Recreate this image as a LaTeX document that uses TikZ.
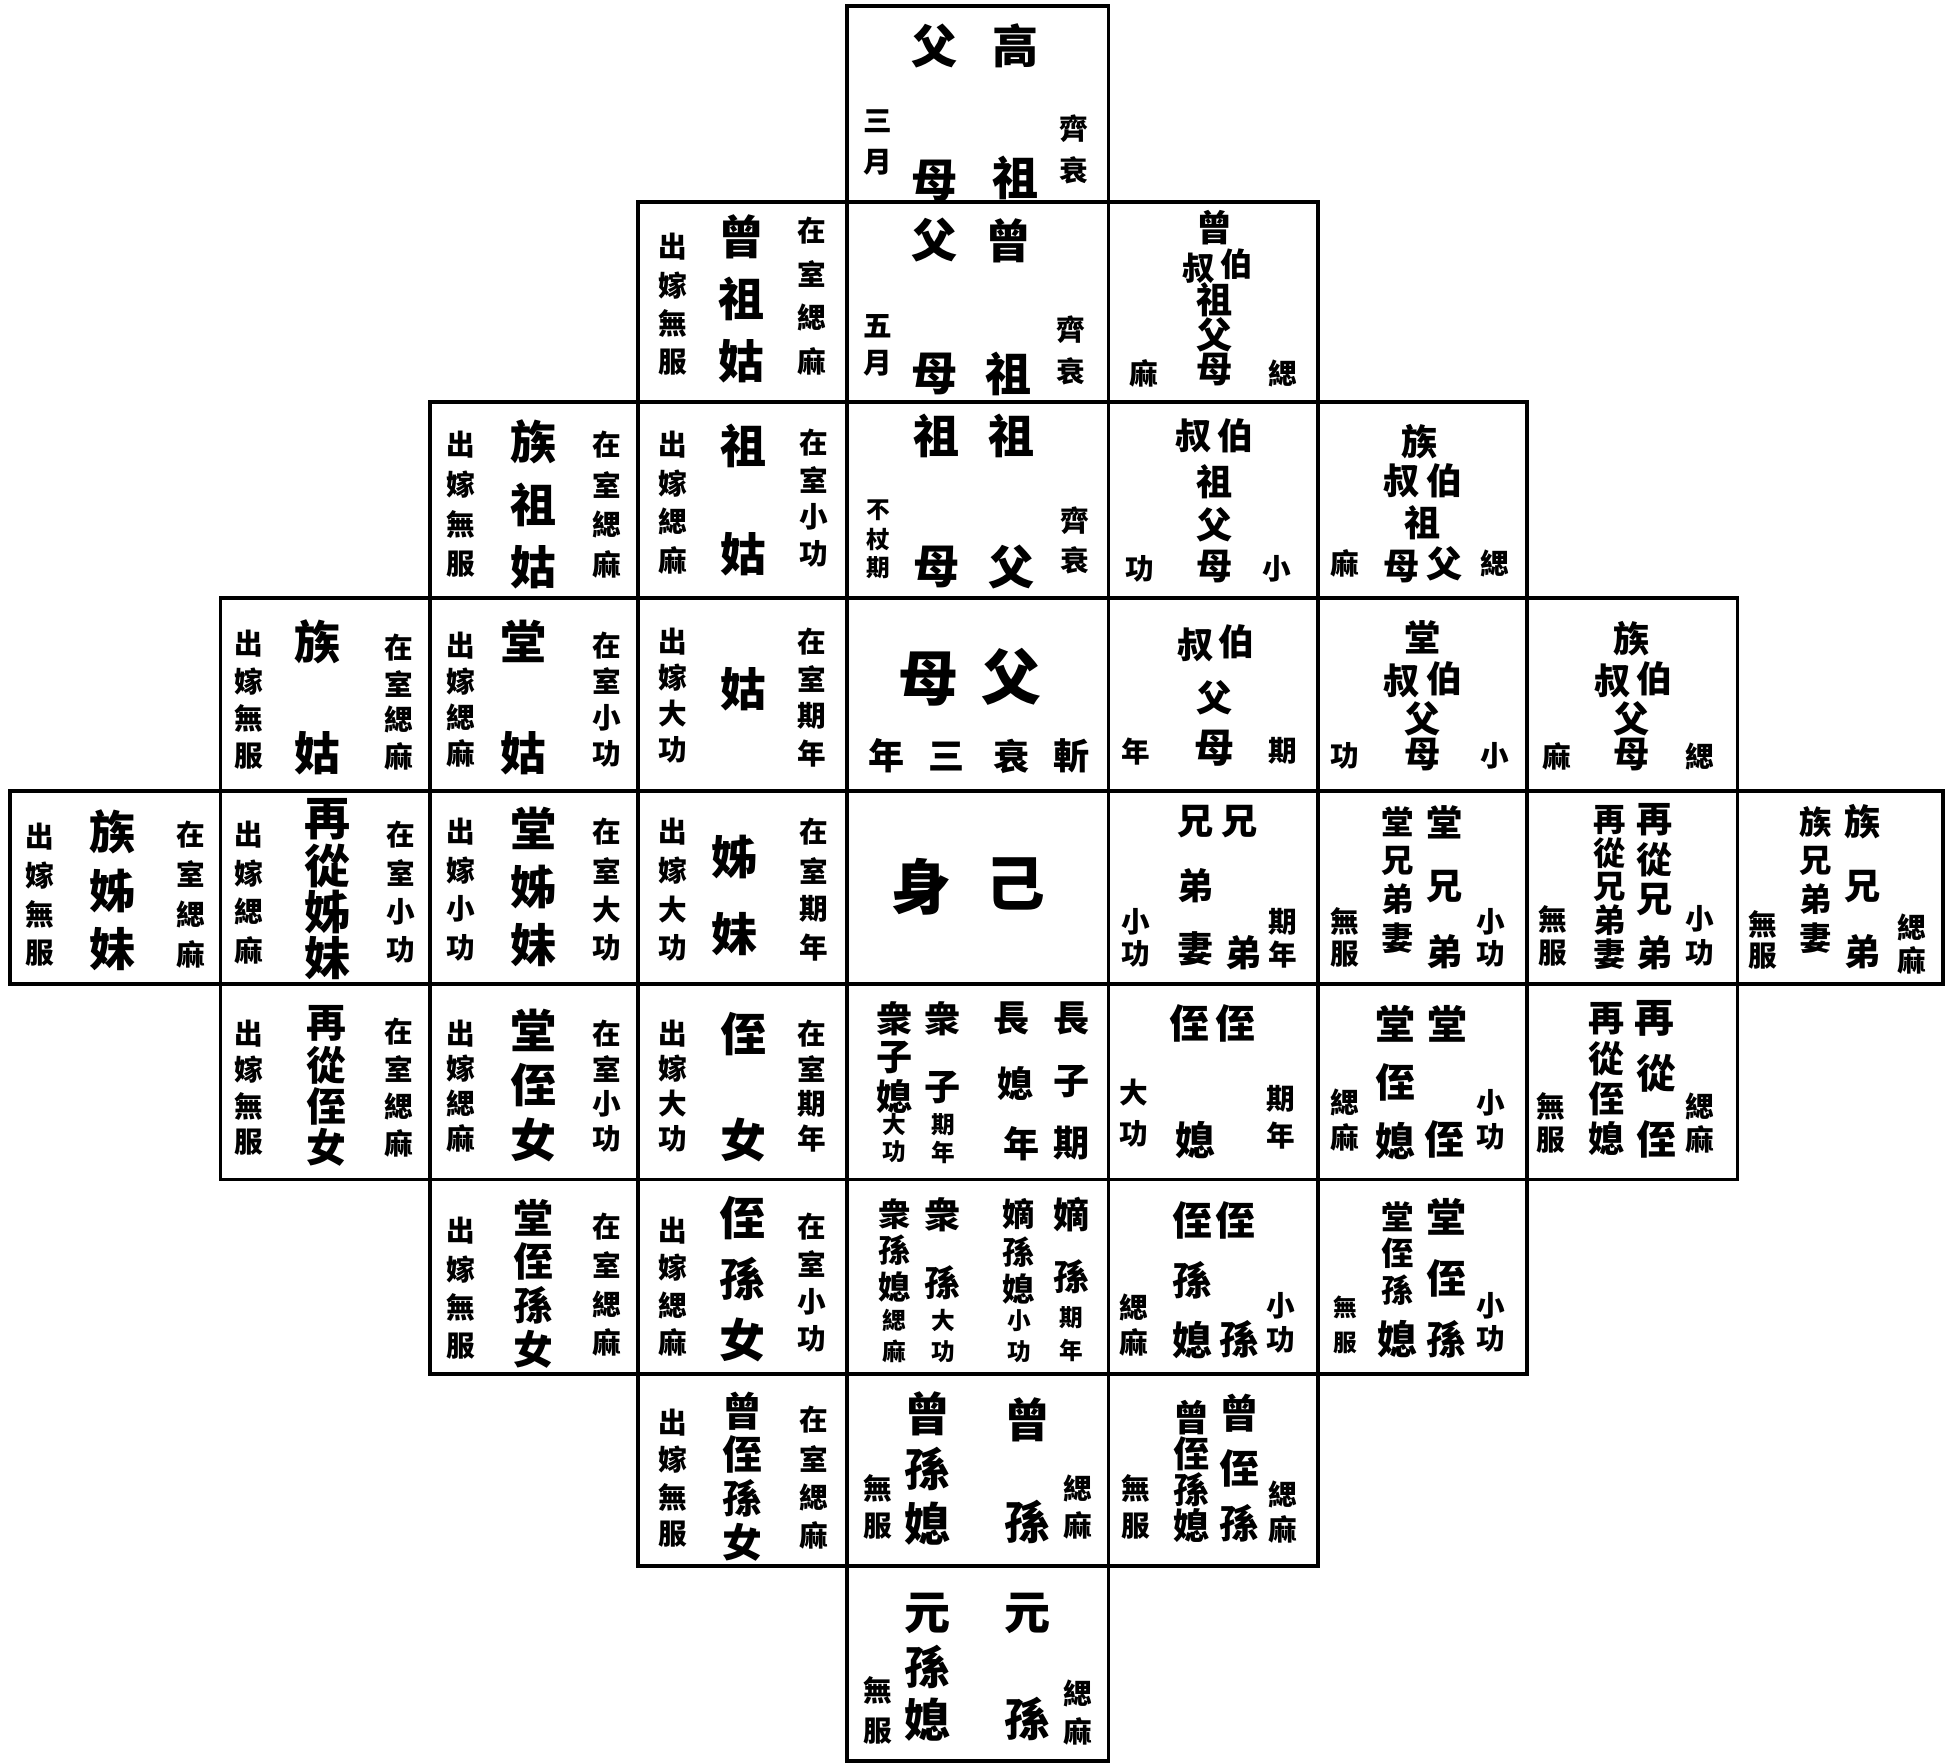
\documentclass[tikz,border=0pt]{standalone}
\usepackage{fontspec}
\newfontfamily\cjk{Noto Sans CJK TC}
\tikzset{
  chr/.style={inner sep=0pt, anchor=center},
  thuge/.style={chr, font=\cjk\bfseries\fontsize{48}{48}\selectfont},
  tbig/.style={chr, font=\cjk\bfseries\fontsize{37}{37}\selectfont},
  tbigs/.style={chr, font=\cjk\bfseries\fontsize{32}{32}\selectfont},
  tmed/.style={chr, font=\cjk\bfseries\fontsize{29}{29}\selectfont},
  tmeds/.style={chr, font=\cjk\bfseries\fontsize{26}{26}\selectfont},
  tsm/.style={chr, font=\cjk\bfseries\fontsize{23}{23}\selectfont},
  ttiny/.style={chr, font=\cjk\bfseries\fontsize{19}{19}\selectfont},
  cellbox/.style={draw, line width=3pt, line join=miter}
}
\newcommand\V[6]{\foreach \chz [count=\i] in {#6} {\node[#2] (#1-\i) at (#3,{#4+(\i-1)*#5}) {\chz};}}
\newcommand\Ch[5]{\node[#2] (#1) at (#3,#4) {#5};}
\begin{document}
\begin{tikzpicture}[x=1pt,y=-1pt]
\fill[white] (0,0) rectangle (1568,1416);
\useasboundingbox (0,0) rectangle (1568,1416);
% ---------- grid ----------
\foreach \xa/\xb in {680/890} \draw[cellbox] (\xa,5) rectangle (\xb,162);
\foreach \xa/\xb in {512/680,680/890,890/1058} \draw[cellbox] (\xa,162) rectangle (\xb,323);
\foreach \xa/\xb in {345/512,512/680,680/890,890/1058,1058/1226} \draw[cellbox] (\xa,323) rectangle (\xb,480);
\foreach \xa/\xb in {177/345,345/512,512/680,680/890,890/1058,1058/1226,1226/1395} \draw[cellbox] (\xa,480) rectangle (\xb,635);
\foreach \xa/\xb in {8/177,177/345,345/512,512/680,680/890,890/1058,1058/1226,1226/1395,1395/1560} \draw[cellbox] (\xa,635) rectangle (\xb,790);
\foreach \xa/\xb in {177/345,345/512,512/680,680/890,890/1058,1058/1226,1226/1395} \draw[cellbox] (\xa,790) rectangle (\xb,947);
\foreach \xa/\xb in {345/512,512/680,680/890,890/1058,1058/1226} \draw[cellbox] (\xa,947) rectangle (\xb,1103);
\foreach \xa/\xb in {512/680,680/890,890/1058} \draw[cellbox] (\xa,1103) rectangle (\xb,1257);
\foreach \xa/\xb in {680/890} \draw[cellbox] (\xa,1257) rectangle (\xb,1414);
% ---------- row 0 ----------
\V{gA}{tbig}{815}{37}{106}{高,祖}
\V{gB}{tbig}{750}{37}{108}{父,母}
\V{gC}{tsm}{862}{103}{34}{齊,衰}
\V{gD}{tsm}{705}{97}{33}{三,月}
% ---------- row 1 ----------
\V{zA}{tbig}{810}{193}{107}{曾,祖}
\V{zB}{tbig}{750}{193}{107}{父,母}
\V{zC}{tsm}{860}{265}{33}{齊,衰}
\V{zD}{tsm}{705}{262}{30}{五,月}
\V{zgA}{tbig}{595}{190}{50}{曾,祖,姑}
\V{zgR}{tsm}{652}{185}{35}{在,室,緦,麻}
\V{zgL}{tsm}{540}{198}{31}{出,嫁,無,服}
\Ch{zbA}{tmed}{975}{183}{曾}
\Ch{zbB}{tmeds}{993}{212}{伯}
\Ch{zbC}{tmeds}{962}{215}{叔}
\V{zbD}{tmed}{975}{241}{28}{祖,父,母}
\Ch{zbR}{tsm}{1030}{300}{緦}
\Ch{zbL}{tsm}{918}{300}{麻}
% ---------- row 2 ----------
\V{zzgA}{tbig}{428}{355}{50}{族,祖,姑}
\V{zzgR}{tsm}{487}{357}{32}{在,室,緦,麻}
\V{zzgL}{tsm}{370}{357}{32}{出,嫁,無,服}
\Ch{zgu1}{tbig}{597}{358}{祖}
\Ch{zgu2}{tbig}{597}{445}{姑}
\V{zguR}{tsm}{653}{355}{30}{在,室,小,功}
\V{zguL}{tsm}{540}{357}{31}{出,嫁,緦,麻}
\V{zfA}{tbig}{812}{350}{105}{祖,父}
\V{zfB}{tbig}{752}{350}{105}{祖,母}
\V{zfR}{tsm}{863}{418}{32}{齊,衰}
\V{zfL}{ttiny}{705}{410}{23}{不,杖,期}
\Ch{bz1}{tmed}{992}{350}{伯}
\Ch{bz2}{tmed}{958}{350}{叔}
\V{bz3}{tmed}{975}{387}{34}{祖,父,母}
\Ch{bzR}{tsm}{1025}{457}{小}
\Ch{bzL}{tsm}{915}{457}{功}
\Ch{zbz1}{tmed}{1140}{355}{族}
\Ch{zbz2}{tmed}{1160}{386}{伯}
\Ch{zbz3}{tmed}{1125}{386}{叔}
\Ch{zbz4}{tmed}{1142}{420}{祖}
\Ch{zbz5}{tmed}{1160}{453}{父}
\Ch{zbz6}{tmed}{1125}{455}{母}
\Ch{zbzR}{tsm}{1200}{452}{緦}
\Ch{zbzL}{tsm}{1080}{452}{麻}
% ---------- row 3 ----------
\Ch{zg1}{tbig}{255}{515}{族}
\Ch{zg2}{tbig}{255}{605}{姑}
\V{zgR3}{tsm}{320}{520}{29}{在,室,緦,麻}
\V{zgL3}{tsm}{200}{517}{30}{出,嫁,無,服}
\Ch{tg1}{tbig}{420}{515}{堂}
\Ch{tg2}{tbig}{420}{605}{姑}
\V{tgR}{tsm}{487}{518}{29}{在,室,小,功}
\V{tgL}{tsm}{370}{518}{29}{出,嫁,緦,麻}
\Ch{gu}{tbig}{597}{553}{姑}
\V{guR}{tsm}{652}{515}{30}{在,室,期,年}
\V{guL}{tsm}{540}{515}{29}{出,嫁,大,功}
\Ch{fu}{thuge}{812}{543}{父}
\Ch{mu}{thuge}{745}{545}{母}
\Ch{zs1}{tmed}{860}{607}{斬}
\Ch{zs2}{tmed}{812}{607}{衰}
\Ch{zs3}{tmed}{760}{607}{三}
\Ch{zs4}{tmed}{712}{607}{年}
\Ch{bs1}{tmed}{993}{515}{伯}
\Ch{bs2}{tmed}{960}{518}{叔}
\Ch{bs3}{tmed}{975}{560}{父}
\Ch{bs4}{tbigs}{975}{601}{母}
\Ch{bsR}{tsm}{1030}{603}{期}
\Ch{bsL}{tsm}{912}{603}{年}
\Ch{tbs1}{tmed}{1142}{512}{堂}
\Ch{tbs2}{tmed}{1160}{545}{伯}
\Ch{tbs3}{tmed}{1125}{547}{叔}
\Ch{tbs4}{tmed}{1142}{577}{父}
\Ch{tbs5}{tmed}{1142}{606}{母}
\Ch{tbsR}{tsm}{1200}{607}{小}
\Ch{tbsL}{tsm}{1080}{607}{功}
\Ch{zbs1}{tmed}{1310}{513}{族}
\Ch{zbs2}{tmed}{1328}{545}{伯}
\Ch{zbs3}{tmed}{1295}{547}{叔}
\Ch{zbs4}{tmed}{1310}{577}{父}
\Ch{zbs5}{tmed}{1310}{606}{母}
\Ch{zbsR}{tsm}{1365}{607}{緦}
\Ch{zbsL}{tsm}{1250}{607}{麻}
% ---------- row 4 ----------
\V{zzm}{tbig}{90}{668}{47}{族,姊,妹}
\V{zzmR}{tsm}{153}{670}{32}{在,室,緦,麻}
\V{zzmL}{tsm}{32}{672}{31}{出,嫁,無,服}
\V{ccm}{tbig}{263}{658}{37}{再,從,姊,妹}
\V{ccmR}{tsm}{322}{670}{31}{在,室,小,功}
\V{ccmL}{tsm}{200}{670}{31}{出,嫁,緦,麻}
\V{tzm}{tbig}{428}{665}{47}{堂,姊,妹}
\V{tzmR}{tsm}{487}{668}{31}{在,室,大,功}
\V{tzmL}{tsm}{370}{668}{31}{出,嫁,小,功}
\Ch{zm1}{tbig}{590}{688}{姊}
\Ch{zm2}{tbig}{590}{750}{妹}
\V{zmR}{tsm}{653}{668}{31}{在,室,期,年}
\V{zmL}{tsm}{540}{668}{31}{出,嫁,大,功}
\Ch{ji}{thuge}{815}{710}{己}
\Ch{shen}{thuge}{740}{712}{身}
\Ch{xd1}{tmed}{995}{660}{兄}
\Ch{xd2}{tmed}{998}{765}{弟}
\V{xdq}{tmed}{960}{660}{51}{兄,弟,妻}
\V{xdR}{tsm}{1030}{740}{26}{期,年}
\V{xdL}{tsm}{912}{740}{26}{小,功}
\V{txd}{tmed}{1160}{660}{52}{堂,兄,弟}
\V{txdq}{tmeds}{1122}{660}{31}{堂,兄,弟,妻}
\V{txdR}{tsm}{1197}{740}{26}{小,功}
\V{txdL}{tsm}{1080}{740}{26}{無,服}
\Ch{cxd1}{tmed}{1328}{658}{再}
\Ch{cxd2}{tmed}{1328}{690}{從}
\Ch{cxd3}{tmed}{1328}{722}{兄}
\Ch{cxd4}{tmed}{1328}{765}{弟}
\V{cxdq}{tmeds}{1292}{658}{27}{再,從,兄,弟,妻}
\V{cxdR}{tsm}{1365}{738}{27}{小,功}
\V{cxdL}{tsm}{1247}{738}{27}{無,服}
\V{zxd}{tmed}{1495}{660}{52}{族,兄,弟}
\V{zxdq}{tmeds}{1458}{660}{31}{族,兄,弟,妻}
\V{zxdR}{tsm}{1535}{745}{26}{緦,麻}
\V{zxdL}{tsm}{1415}{742}{26}{無,服}
% ---------- row 5 ----------
\V{czn}{tbigs}{262}{822}{33}{再,從,侄,女}
\V{cznR}{tsm}{320}{828}{30}{在,室,緦,麻}
\V{cznL}{tsm}{200}{830}{29}{出,嫁,無,服}
\V{tzn}{tbig}{428}{827}{44}{堂,侄,女}
\V{tznR}{tsm}{487}{830}{28}{在,室,小,功}
\V{tznL}{tsm}{370}{830}{28}{出,嫁,緦,麻}
\Ch{zn1}{tbig}{597}{830}{侄}
\Ch{zn2}{tbig}{597}{915}{女}
\V{znR}{tsm}{652}{830}{28}{在,室,期,年}
\V{znL}{tsm}{540}{830}{28}{出,嫁,大,功}
\V{czA}{tmed}{860}{818}{50}{長,子,期}
\Ch{czB1}{tmed}{812}{818}{長}
\Ch{czB2}{tmed}{815}{870}{媳}
\Ch{czB3}{tmed}{820}{918}{年}
\Ch{czC1}{tmed}{757}{818}{衆}
\Ch{czC2}{tmed}{757}{873}{子}
\V{czC3}{ttiny}{757}{903}{22}{期,年}
\V{czD}{tmed}{718}{818}{31}{衆,子,媳}
\V{czD4}{ttiny}{718}{903}{22}{大,功}
\Ch{zi1}{tbigs}{992}{822}{侄}
\Ch{zi2}{tbigs}{955}{822}{侄}
\Ch{zi3}{tbigs}{960}{915}{媳}
\V{ziR}{tsm}{1028}{882}{30}{期,年}
\V{ziL}{tsm}{910}{877}{33}{大,功}
\Ch{tzi1}{tbigs}{1162}{822}{堂}
\Ch{tzi2}{tbigs}{1160}{915}{侄}
\V{tzi3}{tbigs}{1120}{822}{47}{堂,侄,媳}
\V{tziR}{tsm}{1197}{885}{28}{小,功}
\V{tziL}{tsm}{1080}{885}{28}{緦,麻}
\Ch{czi1}{tbigs}{1328}{818}{再}
\Ch{czi2}{tbigs}{1330}{862}{從}
\Ch{czi3}{tbigs}{1330}{915}{侄}
\V{cziq}{tmed}{1290}{818}{32}{再,從,侄,媳}
\V{cziR}{tsm}{1365}{888}{27}{緦,麻}
\V{cziL}{tsm}{1245}{888}{27}{無,服}
% ---------- row 6 ----------
\V{tzsn}{tbigs}{428}{978}{35}{堂,侄,孫,女}
\V{tzsnR}{tsm}{487}{985}{31}{在,室,緦,麻}
\V{tzsnL}{tsm}{370}{988}{31}{出,嫁,無,服}
\V{zsn}{tbig}{596}{978}{49}{侄,孫,女}
\V{zsnR}{tsm}{652}{985}{30}{在,室,小,功}
\V{zsnL}{tsm}{540}{988}{30}{出,嫁,緦,麻}
\Ch{dsA1}{tmed}{860}{975}{嫡}
\Ch{dsA2}{tmed}{860}{1025}{孫}
\V{dsA3}{ttiny}{860}{1058}{26}{期,年}
\V{dsB}{tmeds}{818}{975}{30}{嫡,孫,媳}
\V{dsB4}{ttiny}{818}{1060}{25}{小,功}
\Ch{dsC1}{tmed}{757}{975}{衆}
\Ch{dsC2}{tmed}{757}{1030}{孫}
\V{dsC3}{ttiny}{757}{1060}{25}{大,功}
\V{dsD}{tmeds}{718}{975}{29}{衆,孫,媳}
\V{dsD4}{ttiny}{718}{1060}{25}{緦,麻}
\Ch{zs6a}{tbigs}{992}{980}{侄}
\Ch{zs6b}{tbigs}{995}{1075}{孫}
\V{zs6q}{tbigs}{957}{980}{48}{侄,孫,媳}
\V{zs6R}{tsm}{1028}{1048}{28}{小,功}
\V{zs6L}{tsm}{910}{1050}{28}{緦,麻}
\V{tzs6}{tbigs}{1161}{977}{49}{堂,侄,孫}
\Ch{tzs6a}{tmeds}{1122}{977}{堂}
\Ch{tzs6b}{tmeds}{1122}{1006}{侄}
\Ch{tzs6c}{tmeds}{1122}{1036}{孫}
\Ch{tzs6d}{tbigs}{1122}{1075}{媳}
\V{tzs6R}{tsm}{1197}{1048}{27}{小,功}
\V{tzs6L}{ttiny}{1080}{1050}{28}{無,服}
% ---------- row 7 ----------
\V{czsn}{tbigs}{596}{1133}{35}{曾,侄,孫,女}
\V{czsnR}{tsm}{653}{1140}{31}{在,室,緦,麻}
\V{czsnL}{tsm}{540}{1142}{30}{出,嫁,無,服}
\Ch{cs1}{tbig}{825}{1140}{曾}
\Ch{cs2}{tbig}{825}{1222}{孫}
\V{csq}{tbig}{745}{1135}{44}{曾,孫,媳}
\V{csR}{tsm}{865}{1195}{30}{緦,麻}
\V{csL}{tsm}{705}{1195}{30}{無,服}
\V{czs}{tbigs}{995}{1135}{44}{曾,侄,孫}
\V{czsq}{tmed}{957}{1138}{29}{曾,侄,孫,媳}
\V{czsR}{tsm}{1030}{1200}{28}{緦,麻}
\V{czsL}{tsm}{912}{1195}{30}{無,服}
% ---------- row 8 ----------
\Ch{ys1}{tbig}{825}{1295}{元}
\Ch{ys2}{tbig}{825}{1380}{孫}
\V{ysq}{tbig}{745}{1295}{43}{元,孫,媳}
\V{ysR}{tsm}{865}{1360}{30}{緦,麻}
\V{ysL}{tsm}{705}{1357}{33}{無,服}
\end{tikzpicture}
\end{document}
